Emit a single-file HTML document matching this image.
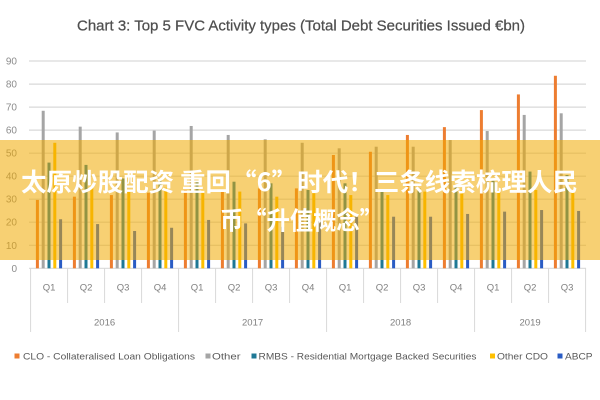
<!DOCTYPE html>
<html>
<head>
<meta charset="utf-8">
<style>
  html,body{margin:0;padding:0;background:#fff;}
  svg{display:block;}
</style>
</head>
<body>
<svg width="600" height="400" viewBox="0 0 600 400" xmlns="http://www.w3.org/2000/svg">
  <rect x="0" y="0" width="600" height="400" fill="#ffffff"/>

  <!-- Title -->
  <text x="77" y="30.5" font-family="'Liberation Sans', sans-serif" font-size="15" fill="#4f4f4f" stroke="#4f4f4f" stroke-width="0.25" textLength="448" lengthAdjust="spacingAndGlyphs">Chart 3: Top 5 FVC Activity types (Total Debt Securities Issued €bn)</text>

  <!-- Gridlines -->
  <g stroke="#d9d9d9" stroke-width="1.2">
    <line x1="29" y1="61" x2="586" y2="61"/>
    <line x1="29" y1="84.1" x2="586" y2="84.1"/>
    <line x1="29" y1="107.1" x2="586" y2="107.1"/>
    <line x1="29" y1="130.1" x2="586" y2="130.1"/>
    <line x1="29" y1="153.2" x2="586" y2="153.2"/>
    <line x1="29" y1="176.2" x2="586" y2="176.2"/>
    <line x1="29" y1="199.2" x2="586" y2="199.2"/>
    <line x1="29" y1="222.2" x2="586" y2="222.2"/>
    <line x1="29" y1="245.3" x2="586" y2="245.3"/>
    <line x1="29" y1="268.3" x2="586" y2="268.3"/>
  </g>

  <!-- Y labels -->
  <g font-family="'Liberation Sans', sans-serif" font-size="10" fill="#8c8c8c" text-anchor="end">
    <text x="17" y="64.5">90</text>
    <text x="17" y="87.6">80</text>
    <text x="17" y="110.6">70</text>
    <text x="17" y="133.6">60</text>
    <text x="17" y="156.7">50</text>
    <text x="17" y="179.7">40</text>
    <text x="17" y="202.7">30</text>
    <text x="17" y="225.7">20</text>
    <text x="17" y="248.8">10</text>
    <text x="17" y="271.8">0</text>
  </g>

  <!-- Bars -->
  <g transform="translate(0,268.3) scale(1,-2.303)">
    <g transform="translate(30.6,0)">
      <rect x="5.3" y="0" width="3" height="29.7" fill="#ED7D31"/>
      <rect x="11.1" y="0" width="3" height="68.4" fill="#A5A5A5"/>
      <rect x="16.9" y="0" width="3" height="45.9" fill="#1F7896"/>
      <rect x="22.7" y="0" width="3" height="54.5" fill="#FFC000"/>
      <rect x="28.5" y="0" width="3" height="21.3" fill="#2A5CC4"/>
    </g>
    <g transform="translate(67.6,0)">
      <rect x="5.3" y="0" width="3" height="31.1" fill="#ED7D31"/>
      <rect x="11.1" y="0" width="3" height="61.5" fill="#A5A5A5"/>
      <rect x="16.9" y="0" width="3" height="44.9" fill="#1F7896"/>
      <rect x="22.7" y="0" width="3" height="36" fill="#FFC000"/>
      <rect x="28.5" y="0" width="3" height="19.2" fill="#2A5CC4"/>
    </g>
    <g transform="translate(104.6,0)">
      <rect x="5.3" y="0" width="3" height="31.8" fill="#ED7D31"/>
      <rect x="11.1" y="0" width="3" height="59" fill="#A5A5A5"/>
      <rect x="16.9" y="0" width="3" height="39" fill="#1F7896"/>
      <rect x="22.7" y="0" width="3" height="33.5" fill="#FFC000"/>
      <rect x="28.5" y="0" width="3" height="16.2" fill="#2A5CC4"/>
    </g>
    <g transform="translate(141.6,0)">
      <rect x="5.3" y="0" width="3" height="32.8" fill="#ED7D31"/>
      <rect x="11.1" y="0" width="3" height="59.8" fill="#A5A5A5"/>
      <rect x="16.9" y="0" width="3" height="39" fill="#1F7896"/>
      <rect x="22.7" y="0" width="3" height="35" fill="#FFC000"/>
      <rect x="28.5" y="0" width="3" height="17.6" fill="#2A5CC4"/>
    </g>
    <g transform="translate(178.6,0)">
      <rect x="5.3" y="0" width="3" height="34" fill="#ED7D31"/>
      <rect x="11.1" y="0" width="3" height="61.8" fill="#A5A5A5"/>
      <rect x="16.9" y="0" width="3" height="38" fill="#1F7896"/>
      <rect x="22.7" y="0" width="3" height="34" fill="#FFC000"/>
      <rect x="28.5" y="0" width="3" height="21" fill="#2A5CC4"/>
    </g>
    <g transform="translate(215.6,0)">
      <rect x="5.3" y="0" width="3" height="34" fill="#ED7D31"/>
      <rect x="11.1" y="0" width="3" height="57.9" fill="#A5A5A5"/>
      <rect x="16.9" y="0" width="3" height="37.6" fill="#1F7896"/>
      <rect x="22.7" y="0" width="3" height="33.3" fill="#FFC000"/>
      <rect x="28.5" y="0" width="3" height="19.5" fill="#2A5CC4"/>
    </g>
    <g transform="translate(252.6,0)">
      <rect x="5.3" y="0" width="3" height="34.7" fill="#ED7D31"/>
      <rect x="11.1" y="0" width="3" height="56" fill="#A5A5A5"/>
      <rect x="16.9" y="0" width="3" height="36.9" fill="#1F7896"/>
      <rect x="22.7" y="0" width="3" height="31.1" fill="#FFC000"/>
      <rect x="28.5" y="0" width="3" height="18" fill="#2A5CC4"/>
    </g>
    <g transform="translate(289.6,0)">
      <rect x="5.3" y="0" width="3" height="34.7" fill="#ED7D31"/>
      <rect x="11.1" y="0" width="3" height="54.5" fill="#A5A5A5"/>
      <rect x="16.9" y="0" width="3" height="34" fill="#1F7896"/>
      <rect x="22.7" y="0" width="3" height="32.6" fill="#FFC000"/>
      <rect x="28.5" y="0" width="3" height="21" fill="#2A5CC4"/>
    </g>
    <g transform="translate(326.6,0)">
      <rect x="5.3" y="0" width="3" height="49.2" fill="#ED7D31"/>
      <rect x="11.1" y="0" width="3" height="52.1" fill="#A5A5A5"/>
      <rect x="16.9" y="0" width="3" height="36.9" fill="#1F7896"/>
      <rect x="22.7" y="0" width="3" height="31.8" fill="#FFC000"/>
      <rect x="28.5" y="0" width="3" height="22.4" fill="#2A5CC4"/>
    </g>
    <g transform="translate(363.6,0)">
      <rect x="5.3" y="0" width="3" height="50.6" fill="#ED7D31"/>
      <rect x="11.1" y="0" width="3" height="52.8" fill="#A5A5A5"/>
      <rect x="16.9" y="0" width="3" height="34" fill="#1F7896"/>
      <rect x="22.7" y="0" width="3" height="31.8" fill="#FFC000"/>
      <rect x="28.5" y="0" width="3" height="22.4" fill="#2A5CC4"/>
    </g>
    <g transform="translate(400.6,0)">
      <rect x="5.3" y="0" width="3" height="57.9" fill="#ED7D31"/>
      <rect x="11.1" y="0" width="3" height="52.8" fill="#A5A5A5"/>
      <rect x="16.9" y="0" width="3" height="34.7" fill="#1F7896"/>
      <rect x="22.7" y="0" width="3" height="33.3" fill="#FFC000"/>
      <rect x="28.5" y="0" width="3" height="22.4" fill="#2A5CC4"/>
    </g>
    <g transform="translate(437.6,0)">
      <rect x="5.3" y="0" width="3" height="61.3" fill="#ED7D31"/>
      <rect x="11.1" y="0" width="3" height="55.7" fill="#A5A5A5"/>
      <rect x="16.9" y="0" width="3" height="35.4" fill="#1F7896"/>
      <rect x="22.7" y="0" width="3" height="34" fill="#FFC000"/>
      <rect x="28.5" y="0" width="3" height="23.6" fill="#2A5CC4"/>
    </g>
    <g transform="translate(474.6,0)">
      <rect x="5.3" y="0" width="3" height="68.7" fill="#ED7D31"/>
      <rect x="11.1" y="0" width="3" height="59.6" fill="#A5A5A5"/>
      <rect x="16.9" y="0" width="3" height="38" fill="#1F7896"/>
      <rect x="22.7" y="0" width="3" height="34" fill="#FFC000"/>
      <rect x="28.5" y="0" width="3" height="24.6" fill="#2A5CC4"/>
    </g>
    <g transform="translate(511.6,0)">
      <rect x="5.3" y="0" width="3" height="75.5" fill="#ED7D31"/>
      <rect x="11.1" y="0" width="3" height="66.6" fill="#A5A5A5"/>
      <rect x="16.9" y="0" width="3" height="42" fill="#1F7896"/>
      <rect x="22.7" y="0" width="3" height="34" fill="#FFC000"/>
      <rect x="28.5" y="0" width="3" height="25.3" fill="#2A5CC4"/>
    </g>
    <g transform="translate(548.6,0)">
      <rect x="5.3" y="0" width="3" height="83.6" fill="#ED7D31"/>
      <rect x="11.1" y="0" width="3" height="67.3" fill="#A5A5A5"/>
      <rect x="16.9" y="0" width="3" height="40.5" fill="#1F7896"/>
      <rect x="22.7" y="0" width="3" height="34" fill="#FFC000"/>
      <rect x="28.5" y="0" width="3" height="24.9" fill="#2A5CC4"/>
    </g>
  </g>

  <!-- Category axis dividers -->
  <g stroke="#d9d9d9" stroke-width="1">
    <line x1="30.6" y1="268.3" x2="30.6" y2="332"/>
    <line x1="67.6" y1="268.3" x2="67.6" y2="303"/>
    <line x1="104.6" y1="268.3" x2="104.6" y2="303"/>
    <line x1="141.6" y1="268.3" x2="141.6" y2="303"/>
    <line x1="178.6" y1="268.3" x2="178.6" y2="332"/>
    <line x1="215.6" y1="268.3" x2="215.6" y2="303"/>
    <line x1="252.6" y1="268.3" x2="252.6" y2="303"/>
    <line x1="289.6" y1="268.3" x2="289.6" y2="303"/>
    <line x1="326.6" y1="268.3" x2="326.6" y2="332"/>
    <line x1="363.6" y1="268.3" x2="363.6" y2="303"/>
    <line x1="400.6" y1="268.3" x2="400.6" y2="303"/>
    <line x1="437.6" y1="268.3" x2="437.6" y2="303"/>
    <line x1="474.6" y1="268.3" x2="474.6" y2="332"/>
    <line x1="511.6" y1="268.3" x2="511.6" y2="303"/>
    <line x1="548.6" y1="268.3" x2="548.6" y2="303"/>
    <line x1="585.6" y1="268.3" x2="585.6" y2="332"/>
  </g>

  <!-- Quarter labels -->
  <g font-family="'Liberation Sans', sans-serif" font-size="9.5" fill="#7f7f7f" text-anchor="middle">
    <text x="49.1" y="290.5">Q1</text>
    <text x="86.1" y="290.5">Q2</text>
    <text x="123.1" y="290.5">Q3</text>
    <text x="160.1" y="290.5">Q4</text>
    <text x="197.1" y="290.5">Q1</text>
    <text x="234.1" y="290.5">Q2</text>
    <text x="271.1" y="290.5">Q3</text>
    <text x="308.1" y="290.5">Q4</text>
    <text x="345.1" y="290.5">Q1</text>
    <text x="382.1" y="290.5">Q2</text>
    <text x="419.1" y="290.5">Q3</text>
    <text x="456.1" y="290.5">Q4</text>
    <text x="493.1" y="290.5">Q1</text>
    <text x="530.1" y="290.5">Q2</text>
    <text x="567.1" y="290.5">Q3</text>
  </g>

  <!-- Year labels -->
  <g font-family="'Liberation Sans', sans-serif" font-size="9.5" fill="#7f7f7f" text-anchor="middle">
    <text x="104.6" y="325.5">2016</text>
    <text x="252.6" y="325.5">2017</text>
    <text x="400.6" y="325.5">2018</text>
    <text x="530.1" y="325.5">2019</text>
  </g>

  <!-- Legend -->
  <g font-family="'Liberation Sans', sans-serif" font-size="9.5" fill="#595959">
    <rect x="14.5" y="353.5" width="5" height="5" fill="#ED7D31"/>
    <text x="23" y="359.5" textLength="172" lengthAdjust="spacingAndGlyphs">CLO - Collateralised Loan Obligations</text>
    <rect x="205.5" y="353.5" width="5" height="5" fill="#A5A5A5"/>
    <text x="212" y="359.5" textLength="28.5" lengthAdjust="spacingAndGlyphs">Other</text>
    <rect x="251.5" y="353.5" width="5" height="5" fill="#1F7896"/>
    <text x="258.5" y="359.5" textLength="218" lengthAdjust="spacingAndGlyphs">RMBS - Residential Mortgage Backed Securities</text>
    <rect x="490" y="353.5" width="5" height="5" fill="#FFC000"/>
    <text x="497" y="359.5" textLength="51" lengthAdjust="spacingAndGlyphs">Other CDO</text>
    <rect x="557.5" y="353.5" width="5" height="5" fill="#2A5CC4"/>
    <text x="565" y="359.5" textLength="27.5" lengthAdjust="spacingAndGlyphs">ABCP</text>
  </g>

  <!-- Banner overlay -->
  <rect x="0" y="140" width="600" height="120" fill="rgb(240,170,0)" fill-opacity="0.55"/>
  <g font-family="'Noto Sans CJK SC', 'WenQuanYi Zen Hei', sans-serif" font-size="25" font-weight="bold" fill="#ffffff">
    <text x="21" y="191" textLength="557" lengthAdjust="spacingAndGlyphs">太原炒股配资 重回“6”时代！三条线索梳理人民</text>
    <text x="220" y="229.5" textLength="163" lengthAdjust="spacingAndGlyphs">币“升值概念”</text>
  </g>
</svg>
</body>
</html>
